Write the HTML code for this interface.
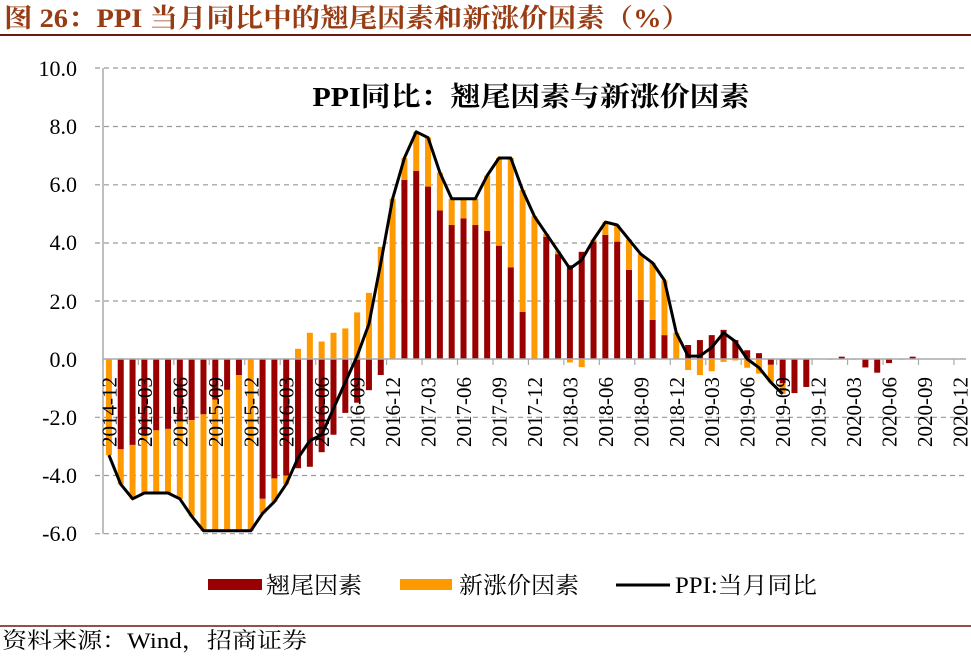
<!DOCTYPE html>
<html><head><meta charset="utf-8"><style>
html,body{margin:0;padding:0;background:#fff;}
svg{display:block;}
text{font-family:"Liberation Serif","Noto Serif CJK SC","Noto Sans CJK SC",serif;}
</style></head><body>
<svg id="s" width="971" height="656" viewBox="0 0 971 656" xmlns="http://www.w3.org/2000/svg">
<text x="4" y="27" font-size="26" font-weight="bold" fill="#983c14" textLength="686" lengthAdjust="spacingAndGlyphs">图 26：PPI 当月同比中的翘尾因素和新涨价因素（%）</text>
<line x1="0" y1="35" x2="971" y2="35" stroke="#6b1a10" stroke-width="2"/>
<g stroke="#999" stroke-width="1.2" stroke-dasharray="5,4">
<line x1="95" y1="68" x2="966" y2="68"/><line x1="95" y1="126.5" x2="966" y2="126.5"/><line x1="95" y1="184.8" x2="966" y2="184.8"/><line x1="95" y1="243" x2="966" y2="243"/><line x1="95" y1="301" x2="966" y2="301"/><line x1="95" y1="417.3" x2="966" y2="417.3"/><line x1="95" y1="475.5" x2="966" y2="475.5"/><line x1="95" y1="533.7" x2="966" y2="533.7"/>
</g>
<line x1="103" y1="68" x2="103" y2="534" stroke="#aaa" stroke-width="1.5"/>
<g font-size="22" text-anchor="end" fill="#000">
<text x="77" y="76">10.0</text><text x="77" y="134">8.0</text><text x="77" y="192">6.0</text><text x="77" y="250">4.0</text><text x="77" y="309">2.0</text><text x="77" y="367">0.0</text><text x="77" y="425">-2.0</text><text x="77" y="483">-4.0</text><text x="77" y="541">-6.0</text>
</g>
<text x="531" y="106" font-size="27" font-weight="bold" text-anchor="middle" textLength="437" lengthAdjust="spacingAndGlyphs">PPI同比：翘尾因素与新涨价因素</text>
<g id="bars"></g>
<line x1="103" y1="359" x2="966" y2="359" stroke="#aaa" stroke-width="1.5"/>
<g id="ticks" stroke="#aaa" stroke-width="1.2"></g>
<polyline id="ln" fill="none" stroke="#000" stroke-width="3" stroke-linejoin="round"/>
<g font-size="21" text-anchor="end">
<text transform="translate(116.4,377) rotate(-90)">2014-12</text>
<text transform="translate(151.9,377) rotate(-90)">2015-03</text>
<text transform="translate(187.3,377) rotate(-90)">2015-06</text>
<text transform="translate(222.8,377) rotate(-90)">2015-09</text>
<text transform="translate(258.3,377) rotate(-90)">2015-12</text>
<text transform="translate(293.7,377) rotate(-90)">2016-03</text>
<text transform="translate(329.2,377) rotate(-90)">2016-06</text>
<text transform="translate(364.6,377) rotate(-90)">2016-09</text>
<text transform="translate(400.1,377) rotate(-90)">2016-12</text>
<text transform="translate(435.6,377) rotate(-90)">2017-03</text>
<text transform="translate(471.0,377) rotate(-90)">2017-06</text>
<text transform="translate(506.5,377) rotate(-90)">2017-09</text>
<text transform="translate(541.9,377) rotate(-90)">2017-12</text>
<text transform="translate(577.4,377) rotate(-90)">2018-03</text>
<text transform="translate(612.9,377) rotate(-90)">2018-06</text>
<text transform="translate(648.3,377) rotate(-90)">2018-09</text>
<text transform="translate(683.8,377) rotate(-90)">2018-12</text>
<text transform="translate(719.2,377) rotate(-90)">2019-03</text>
<text transform="translate(754.7,377) rotate(-90)">2019-06</text>
<text transform="translate(790.2,377) rotate(-90)">2019-09</text>
<text transform="translate(825.6,377) rotate(-90)">2019-12</text>
<text transform="translate(861.1,377) rotate(-90)">2020-03</text>
<text transform="translate(896.5,377) rotate(-90)">2020-06</text>
<text transform="translate(932.0,377) rotate(-90)">2020-09</text>
<text transform="translate(967.5,377) rotate(-90)">2020-12</text>
</g>
<rect x="208" y="579" width="54" height="11" fill="#990000"/>
<text x="266" y="593" font-size="23" textLength="96" lengthAdjust="spacingAndGlyphs">翘尾因素</text>
<rect x="400" y="579" width="52" height="11" fill="#ff9900"/>
<text x="459" y="593" font-size="23" textLength="120" lengthAdjust="spacingAndGlyphs">新涨价因素</text>
<line x1="616" y1="585" x2="670" y2="585" stroke="#000" stroke-width="3"/>
<text x="675" y="593" font-size="23" textLength="142" lengthAdjust="spacingAndGlyphs">PPI:当月同比</text>
<line x1="0" y1="626" x2="971" y2="626" stroke="#6b1a10" stroke-width="1.5"/>
<text x="2" y="648" font-size="22" textLength="305" lengthAdjust="spacingAndGlyphs">资料来源：Wind，招商证券</text>
</svg>
<script>
(function(){
var NS="http://www.w3.org/2000/svg";
var carry=[0,-3.1,-2.95,-2.6,-2.45,-2.4,-2.1,-2.1,-1.9,-1.4,-1.06,-0.55,0,
-4.8,-4.1,-4.0,-3.75,-3.7,-3.2,-2.6,-1.85,-1.5,-1.07,-0.55,0,
6.15,6.46,5.92,5.1,4.6,4.83,4.6,4.4,3.89,3.15,1.62,0,
4.2,3.6,3.22,3.68,4.03,4.26,4.03,3.06,2.03,1.34,0.82,0,
0.48,0.65,0.82,1.0,0.65,0.3,0.2,-0.2,-0.83,-1.17,-0.96,0,
-0.02,0.08,-0.02,-0.29,-0.47,-0.14,-0.02,0.08,0,0,0,0];
var ppi=[-3.3,-4.3,-4.8,-4.6,-4.6,-4.6,-4.8,-5.4,-5.9,-5.9,-5.9,-5.9,-5.9,
-5.3,-4.9,-4.3,-3.4,-2.8,-2.6,-1.7,-0.8,0.1,1.2,3.3,5.5,
6.9,7.8,7.6,6.4,5.5,5.5,5.5,6.3,6.9,6.9,5.8,4.9,
4.3,3.7,3.1,3.4,4.1,4.7,4.6,4.1,3.6,3.3,2.7,0.9,
0.1,0.1,0.4,0.9,0.6,0.0,-0.3,-0.8,-1.2];
function Y(v){return 359-v*29.125;}
function X(i){return 103+11.82*(i+0.5);}
var g=document.getElementById("bars");
function r(x,y1,y2,c){var a=Math.min(y1,y2),h=Math.abs(y2-y1);if(h<0.3)return;var e=document.createElementNS(NS,"rect");e.setAttribute("x",x-3);e.setAttribute("y",a);e.setAttribute("width",6);e.setAttribute("height",h);e.setAttribute("fill",c);g.appendChild(e);}
var pts=[];
for(var i=0;i<73;i++){
 var c=carry[i],n=(i<ppi.length)?ppi[i]-c:0;
 var x=X(i);
 r(x,Y(0),Y(c),"#990000");
 if(n*c>0) r(x,Y(c),Y(c+n),"#ff9900"); else r(x,Y(0),Y(n),"#ff9900");
 if(i<ppi.length) pts.push(x.toFixed(1)+","+Y(ppi[i]).toFixed(1));
}
document.getElementById("ln").setAttribute("points",pts.join(" "));
var t=document.getElementById("ticks");
for(var k=0;k<=72;k+=3){var e=document.createElementNS(NS,"line");var x=X(k)-6;e.setAttribute("x1",x);e.setAttribute("x2",x);e.setAttribute("y1",359);e.setAttribute("y2",365);t.appendChild(e);}
})();
</script>
</body></html>
